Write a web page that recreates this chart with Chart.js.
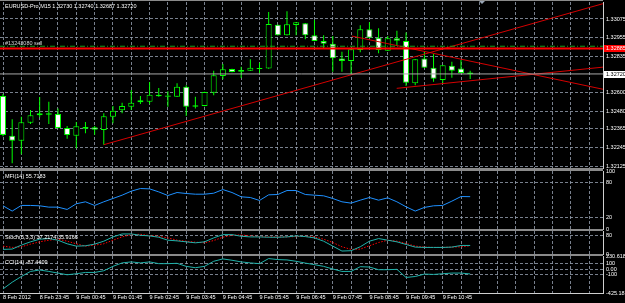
<!DOCTYPE html>
<html>
<head>
<meta charset="utf-8">
<title>EURUSD-Pro,M15</title>
<script src="https://cdn.jsdelivr.net/npm/chart.js@4.4.1/dist/chart.umd.min.js"></script>
<style>
    html, body { margin: 0; padding: 0; background: #000; }
    #wrap { position: relative; width: 625px; height: 303px; overflow: hidden; background: #000;
            font-family: 'Liberation Sans', Arial, sans-serif; }
    #wrap canvas { position: absolute; left: 0; }
    .sep { position: absolute; left: 0; width: 603px; background: #8a8a8a; z-index: 5; }
    .lbl { position: absolute; left: 5px; color: #fff; font-size: 5.5px; line-height: 6px; white-space: nowrap; z-index: 6; }
    #shift { position: absolute; left: 479px; top: 1px; width: 0; height: 0; z-index: 6;
             border-left: 3px solid transparent; border-right: 3px solid transparent; border-top: 3px solid #9aa6b6; }
</style>
</head>
<body>
<div id="wrap">
    <canvas id="mainChart"></canvas>
    <canvas id="mfiChart"></canvas>
    <canvas id="stochChart"></canvas>
    <canvas id="cciChart"></canvas>
    <div class="sep" style="top:0;height:1px"></div>
    <div class="sep" style="top:168px;height:3px"></div>
    <div class="sep" style="top:229px;height:2px"></div>
    <div class="sep" style="top:254px;height:2px"></div>
    <div id="shift"></div>
    <div class="lbl" id="symbolTitle" style="top:3px"></div>
    <div class="lbl" id="orderTitle" style="top:40px;color:#d0d0d0"></div>
    <div class="lbl" id="mfiTitle" style="top:172.7px"></div>
    <div class="lbl" id="stochTitle" style="top:233.7px"></div>
    <div class="lbl" id="cciTitle" style="top:259.3px"></div>
</div>
<script>
// --- values (EURUSD M15, 8-9 Feb 2012) ---
const SYMBOL = 'EURUSD-Pro';
const TIMEFRAME = 'M15';

// one label every 4 bars, starting at bar 0
const TIME_LABELS = ['8 Feb 2012', '8 Feb 23:45', '9 Feb 00:45', '9 Feb 01:45', '9 Feb 02:45', '9 Feb 03:45',
    '9 Feb 04:45', '9 Feb 05:45', '9 Feb 06:45', '9 Feb 07:45', '9 Feb 08:45', '9 Feb 09:45', '9 Feb 10:45'];

const OPEN = [1.32578, 1.32321, 1.32289, 1.32405, 1.32453, 1.32466, 1.32461, 1.32371, 1.32321, 1.32366,
    1.32375, 1.32358, 1.32444, 1.32485, 1.32508, 1.32537, 1.32541, 1.32586, 1.32573, 1.32573,
    1.32638, 1.32508, 1.32513, 1.32599, 1.32707, 1.32752, 1.32735, 1.32741, 1.32752, 1.32756,
    1.33038, 1.32970, 1.33036, 1.33047, 1.32970, 1.32933, 1.32915, 1.32819, 1.32804, 1.32875,
    1.33008, 1.32954, 1.32870, 1.32950, 1.32933, 1.32660, 1.32819, 1.32760, 1.32681, 1.32773,
    1.32756, 1.32730];
const HIGH = [1.32590, 1.32427, 1.32444, 1.32487, 1.32571, 1.32541, 1.32496, 1.32384, 1.32410, 1.32410,
    1.32384, 1.32466, 1.32513, 1.32534, 1.32616, 1.32578, 1.32668, 1.32629, 1.32608, 1.32660,
    1.32647, 1.32573, 1.32605, 1.32741, 1.32784, 1.32754, 1.32767, 1.32815, 1.32793, 1.33120,
    1.33040, 1.33125, 1.33056, 1.33049, 1.33069, 1.32970, 1.32965, 1.32864, 1.32881, 1.33034,
    1.33054, 1.33015, 1.32965, 1.32999, 1.32987, 1.32817, 1.32864, 1.32849, 1.32778, 1.32799,
    1.32810, 1.32740];
const LOW = [1.32318, 1.32143, 1.32201, 1.32397, 1.32440, 1.32397, 1.32369, 1.32302, 1.32240, 1.32337,
    1.32328, 1.32263, 1.32401, 1.32466, 1.32487, 1.32526, 1.32526, 1.32573, 1.32508, 1.32571,
    1.32448, 1.32496, 1.32511, 1.32582, 1.32685, 1.32731, 1.32694, 1.32739, 1.32724, 1.32754,
    1.32968, 1.32968, 1.32970, 1.32944, 1.32931, 1.32886, 1.32735, 1.32735, 1.32720, 1.32860,
    1.32952, 1.32853, 1.32868, 1.32907, 1.32642, 1.32647, 1.32758, 1.32670, 1.32660, 1.32696,
    1.32724, 1.32687];
const CLOSE = [1.32326, 1.32289, 1.32408, 1.32453, 1.32466, 1.32457, 1.32371, 1.32326, 1.32382, 1.32377,
    1.32360, 1.32446, 1.32483, 1.32513, 1.32534, 1.32550, 1.32586, 1.32576, 1.32580, 1.32638,
    1.32508, 1.32518, 1.32603, 1.32711, 1.32750, 1.32733, 1.32745, 1.32760, 1.32758, 1.33043,
    1.32970, 1.33041, 1.33054, 1.32970, 1.32933, 1.32915, 1.32821, 1.32804, 1.32879, 1.33008,
    1.32954, 1.32875, 1.32950, 1.32935, 1.32663, 1.32815, 1.32760, 1.32689, 1.32776, 1.32741,
    1.32726, 1.32720];

const MFI = [40.0, 30.9, 40.6, 40.6, 40.0, 37.7, 37.7, 33.7, 43.5, 46.9,
    40.6, 46.9, 52.6, 58.3, 65.2, 69.8, 69.2, 64.0, 57.7, 62.9,
    61.2, 60.0, 60.0, 61.7, 68.0, 62.9, 55.5, 54.3, 49.2, 58.9,
    59.5, 66.3, 66.3, 59.5, 58.3, 57.2, 52.6, 46.9, 44.6, 49.7,
    54.3, 49.7, 53.7, 46.9, 38.3, 30.9, 37.2, 40.0, 40.6, 48.0,
    56.0, 55.7183];
const STOCH_MAIN = [20, 21.4, 38.6, 52.9, 64.3, 67.1, 60, 44.3, 34.3, 35.7,
    42.9, 55.7, 74.3, 87.1, 87.1, 81.4, 78.6, 72.9, 60, 57.1,
    52.9, 48.6, 52.9, 70, 84.3, 84.3, 77.1, 74.3, 74.3, 72.9,
    72.9, 74.3, 78.6, 75.7, 70, 55.7, 34.3, 12.9, 14.3, 31.4,
    55.7, 67.1, 60, 52.9, 41.4, 30, 28.6, 28.6, 28.6, 30,
    37.1, 37.2174];
const STOCH_SIGNAL = [34.3, 28.6, 31.4, 42.9, 52.9, 60, 64.3, 55.7, 44.3, 34.3,
    38.6, 44.3, 60, 74.3, 84.3, 85.7, 80, 77.1, 70, 60,
    55.7, 51.4, 48.6, 58.6, 72.9, 81.4, 82.9, 78.6, 75.7, 74.3,
    74.3, 74.3, 75.7, 77.1, 74.3, 64.3, 50, 31.4, 20, 21.4,
    35.7, 50, 60, 55.7, 45.7, 34.3, 30, 28.6, 28.6, 30,
    31.4, 35.9166];
const CCI = [-353, -234, -133, -43, -18, -43, -72, -102, -84, -61,
    -61, -31, 47, 108, 126, 108, 126, 95, 95, 101,
    47, 23, 47, 137, 179, 155, 126, 108, 95, 185,
    167, 161, 137, 105, 77, 47, 0, -43, -43, 41,
    35, -12, -12, -6, -150, -133, -90, -96, -84, -72,
    -72, -87.4409];

// chart objects: order line, horizontal line, trend lines [bar, price]
const ORDER_LABEL = '#13243080 sell';
const ORDER_PRICE = 1.32899;
const HLINE_PRICE = 1.32885;
const BID_PRICE = CLOSE[CLOSE.length - 1];
const TRENDLINES = [
    [[11, 1.32263], [65.5, 1.33174]],
    [[38.07, 1.32965], [65.5, 1.32621]],
    [[42.98, 1.32627], [65.5, 1.32764]]
];

// axis ranges and tick labels
const X_MIN = -0.33, X_MAX = 65.5;
const PRICE_MIN = 1.321124, PRICE_MAX = 1.331848;
const PRICE_TICKS = [1.33075, 1.32955, 1.32835, 1.32600, 1.32480, 1.32365, 1.32245, 1.32125];
const OSC_TICKS = [0, 20, 80, 100];
const CCI_MIN = -425.188, CCI_MAX = 230.6182;
const CCI_TICKS = [-425.188, -100, 0, 100, 230.6182];

// --- look ---
const W = 625, AXIS_W = 22, PAD = 8;
const GRID = 'rgba(150,160,176,0.8)';
const FRAME = '#cfcfcf';
const LIME = '#00ff00';
const TICK_FONT = { family: 'Liberation Sans', size: 5.5, lineHeight: '6px' };

Chart.defaults.font.family = 'Liberation Sans';

const gridBars = [];
for (let b = 0; b <= 64; b += 2) gridBars.push(b);

function xAxis(withTime) {
    return {
        type: 'linear', min: X_MIN, max: X_MAX, offset: false, bounds: 'data',
        afterBuildTicks: (s) => { s.ticks = gridBars.map(v => ({ value: v })); },
        grid: { color: GRID, lineWidth: 1, drawTicks: false, offset: false },
        border: { display: withTime, color: FRAME, width: 1, dash: [3, 2] },
        ticks: {
            display: withTime, autoSkip: false, maxRotation: 0, minRotation: 0,
            align: 'start', padding: 1, color: '#ffffff', font: TICK_FONT,
            callback: (v) => (v % 4 === 0 && v / 4 < TIME_LABELS.length) ? TIME_LABELS[v / 4] : ''
        }
    };
}

function yAxis(min, max, ticks, fmt, gridAt) {
    return {
        type: 'linear', position: 'right', min, max, bounds: 'data',
        afterBuildTicks: (s) => { s.ticks = ticks.map(v => ({ value: v })); },
        afterFit: (s) => { s.width = AXIS_W; },
        grid: {
            drawTicks: false, lineWidth: 1,
            color: (c) => (c.tick && gridAt(c.tick.value)) ? GRID : 'rgba(0,0,0,0)'
        },
        border: { display: true, color: FRAME, width: 1, dash: [3, 2] },
        ticks: { color: '#ffffff', font: TICK_FONT, padding: 3, callback: fmt }
    };
}

function series(values, color, dash) {
    return {
        type: 'line', order: 0, data: values.map((v, i) => ({ x: i, y: v })),
        borderColor: color, borderWidth: 1, borderDash: dash || [], pointRadius: 0, tension: 0, clip: 0
    };
}

function segment(points, color, width, dash) {
    return {
        type: 'line', order: 0, data: points.map(([x, y]) => ({ x, y })),
        borderColor: color, borderWidth: width, borderDash: dash || [], pointRadius: 0, clip: 0
    };
}

// price tags on the right scale (horizontal line and bid)
const priceTags = {
    id: 'priceTags',
    afterDraw(chart) {
        const { ctx, chartArea, scales: { y } } = chart;
        const tags = [
            { price: HLINE_PRICE, bg: '#ff0000', fg: '#ffffff' },
            { price: BID_PRICE, bg: '#ffffff', fg: '#000000' }
        ];
        tags.forEach(tag => {
            const py = Math.round(y.getPixelForValue(tag.price));
            ctx.save();
            ctx.fillStyle = tag.bg;
            ctx.fillRect(chartArea.right + 1, py - 3, chart.width - chartArea.right - 1, 7);
            ctx.fillStyle = tag.fg;
            ctx.font = '5.5px "Liberation Sans"';
            ctx.textBaseline = 'middle';
            ctx.fillText(tag.price.toFixed(5), chartArea.right + 3, py + 0.5);
            ctx.restore();
        });
    }
};

function buildPane(canvasId, type, top, bottom, withTime, datasets, y, plugins) {
    const canvas = document.getElementById(canvasId);
    canvas.width = W;
    canvas.height = (bottom - top) + PAD * 2;
    canvas.style.top = (top - PAD) + 'px';
    return new Chart(canvas, {
        type,
        data: { datasets },
        options: {
            responsive: false, animation: false, events: [],
            layout: { padding: { top: PAD, bottom: withTime ? 0 : PAD, left: 0, right: 0 } },
            plugins: { legend: { display: false }, tooltip: { enabled: false } },
            scales: { x: xAxis(withTime), y }
        },
        plugins: plugins || []
    });
}

document.addEventListener('DOMContentLoaded', () => {
    // Price pane: candles + objects
    const bodies = {
        type: 'bar', order: 1, grouped: false, maxBarThickness: 6, borderWidth: 1,
        borderSkipped: false, inflateAmount: 0, borderColor: LIME,
        backgroundColor: CLOSE.map((c, i) => c > OPEN[i] ? '#000000' : '#ffffff'),
        data: OPEN.map((o, i) => ({ x: i, y: [o, CLOSE[i]] }))
    };
    const wicks = {
        type: 'bar', order: 2, grouped: false, maxBarThickness: 1, borderWidth: 0,
        inflateAmount: 0, backgroundColor: LIME,
        data: LOW.map((l, i) => ({ x: i, y: [l, HIGH[i]] }))
    };
    buildPane('mainChart', 'bar', 2, 168, false, [
        segment([[X_MIN, BID_PRICE], [X_MAX, BID_PRICE]], '#a8a8a8', 1),
        segment([[X_MIN, ORDER_PRICE], [X_MAX, ORDER_PRICE]], '#1a9e1a', 1, [5, 2, 1, 2]),
        segment([[X_MIN, HLINE_PRICE], [X_MAX, HLINE_PRICE]], '#ff0000', 2),
        ...TRENDLINES.map(t => segment(t, '#d40000', 1)),
        bodies, wicks
    ], yAxis(PRICE_MIN, PRICE_MAX, PRICE_TICKS, v => v.toFixed(5), () => true), [priceTags]);

    // MFI(14)
    buildPane('mfiChart', 'line', 171, 229, false, [series(MFI, '#1e90ff')],
        yAxis(0, 100, OSC_TICKS, v => String(v), v => v === 20 || v === 80));

    // Stochastic(5,3,3)
    buildPane('stochChart', 'line', 231, 254, false, [
        series(STOCH_MAIN, '#20b2aa'),
        series(STOCH_SIGNAL, '#ff0000', [1.5, 1.5])
    ], yAxis(0, 100, OSC_TICKS, v => String(v), v => v === 20 || v === 80));

    // CCI(14)
    buildPane('cciChart', 'line', 256, 293, true, [series(CCI, '#20b2aa')],
        yAxis(CCI_MIN, CCI_MAX, CCI_TICKS, v => v === 0 ? '0.00' : String(v), v => v === 100 || v === 0 || v === -100));

    // pane captions
    const last = CLOSE.length - 1;
    document.getElementById('symbolTitle').textContent =
        `${SYMBOL},${TIMEFRAME}  ${OPEN[last].toFixed(5)} ${HIGH[last].toFixed(5)} ${LOW[last].toFixed(5)} ${CLOSE[last].toFixed(5)}`;
    document.getElementById('orderTitle').textContent = ORDER_LABEL;
    document.getElementById('mfiTitle').textContent = `MFI(14) ${MFI[last].toFixed(4)}`;
    document.getElementById('stochTitle').textContent =
        `Stoch(5,3,3) ${STOCH_MAIN[last].toFixed(4)} ${STOCH_SIGNAL[last].toFixed(4)}`;
    document.getElementById('cciTitle').textContent = `CCI(14) ${CCI[last].toFixed(4)}`;
});
</script>
</body>
</html>
